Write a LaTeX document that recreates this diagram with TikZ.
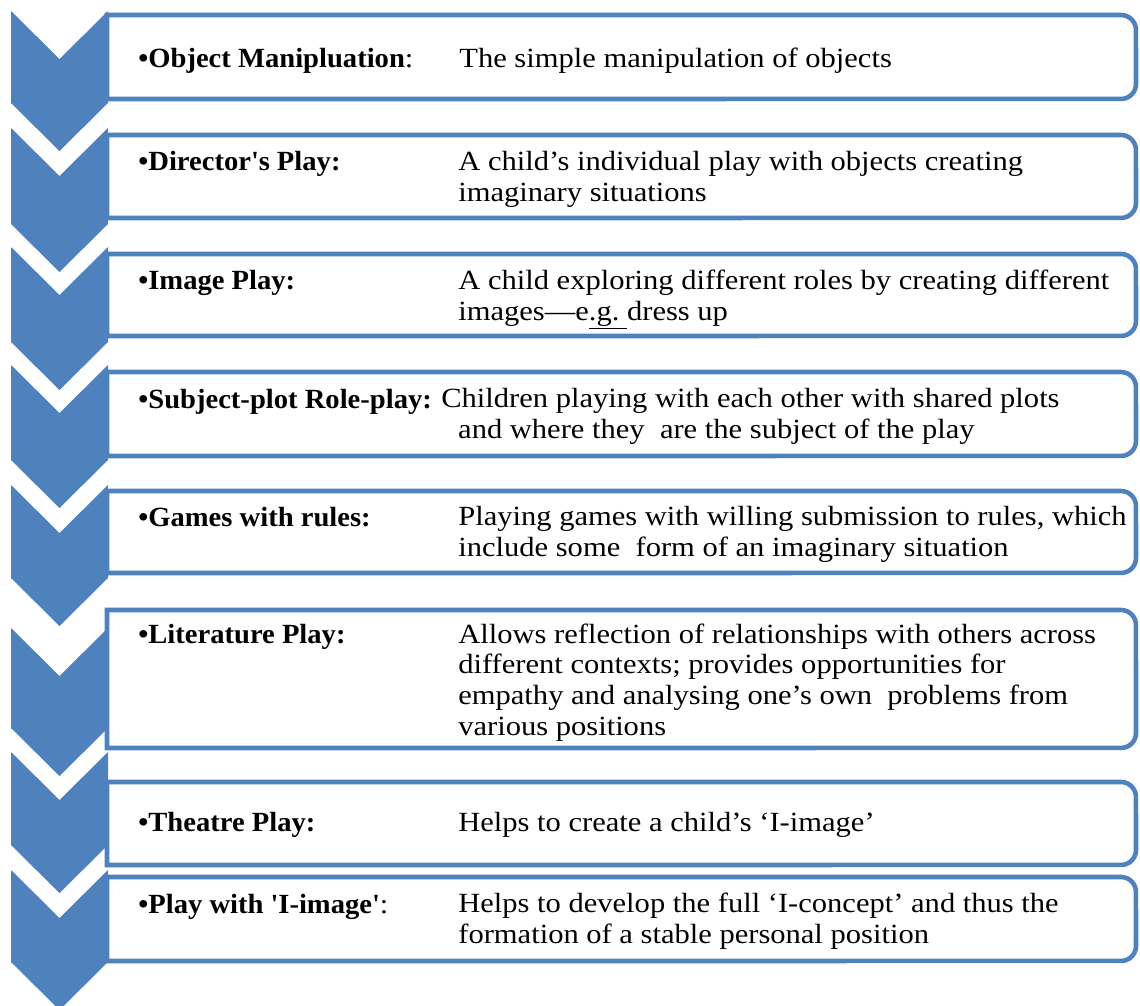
\documentclass[tikz,border=0pt]{standalone}
\usepackage{fontspec}
\setmainfont{Liberation Serif}[FakeStretch=1.1, BoldFeatures={FakeStretch=1.03}]
\definecolor{cB}{RGB}{79,129,189}
\newcommand{\stagefont}{\fontsize{15.8}{17.4}\selectfont}
\tikzset{chevfill/.style={
  fill=cB,
  }
}
\tikzset{stagebox/.style={
  draw=cB,
  fill=white,
  line width=2.6pt,
  line join=miter,
  }
}
\tikzset{stagelab/.style={
  anchor=base west,
  inner sep=0pt,
  font=\stagefont,
  }
}
\tikzset{stagetxt/.style={
  anchor=base west,
  inner sep=0pt,
  align=left,
  font=\stagefont,
  }
}
\newcommand{\chev}[2]{\fill[chevfill] (11,-#1) -- (59.5,-#1-48) -- (108,-#1) -- (108,-#2) -- (59.5,-#2-48) -- (11,-#2) -- cycle;}
\newcommand{\stagerect}[2]{\draw[stagebox] (107,-#1) -- (1121,-#1) arc[start angle=90,end angle=0,radius=8.5pt] -- (1136,-#2+15) arc[start angle=0,end angle=-90,radius=8.5pt] -- (107,-#2) -- cycle;}

\begin{document}
\begin{tikzpicture}[x=0.02cm, y=0.02cm]
  \useasboundingbox (0,0) rectangle (1140,-1005);
  \clip (0,0) rectangle (1140,-1005);

  \chev{11}{103}
  \chev{128}{224}
  \chev{247}{342}
  \chev{365}{460}
  \chev{485}{578}
  \chev{628}{728}
  \chev{752}{845}
  \chev{870}{962}

  \stagerect{15}{99}
  \stagerect{135}{218}
  \stagerect{254}{336}
  \stagerect{372}{456}
  \stagerect{491}{573}
  \stagerect{610}{748}
  \stagerect{782}{865}
  \stagerect{877}{961}

  % multi-line texts sit on the baseline of their last line
  \node [stagelab] (lab1) at (138,-67) {\textbf{•Object Manipluation}:};
  \node [stagetxt] (txt1) at (459,-67) {The simple manipulation of objects};

  \node [stagelab] (lab2) at (138,-170) {\textbf{•Director\textquotesingle s Play:}};
  \node [stagetxt] (txt2) at (458,-201) {A child’s individual play with objects creating\\imaginary situations};

  \node [stagelab] (lab3) at (138,-289) {\textbf{•Image Play:}};
  \node [stagetxt] (txt3) at (458,-320) {A child exploring different roles by creating different\\images—e\underline{.g.\ }dress up};

  \node [stagelab] (lab4) at (138,-408) {\textbf{•Subject-plot Role-play:}};
  \node [stagetxt] (txt4) at (441,-438) {Children playing with each other with shared plots\\\hspace*{9.6pt}and where they\ \ are the subject of the play};

  \node [stagelab] (lab5) at (138,-526) {\textbf{•Games with rules:}};
  \node [stagetxt] (txt5) at (458,-556) {Playing games with willing submission to rules, which\\include some\ \ form of an imaginary situation};

  \node [stagelab] (lab6) at (138,-643) {\textbf{•Literature Play:}};
  \node [stagetxt] (txt6) at (458,-735) {Allows reflection of relationships with others across\\different contexts; provides opportunities for\\empathy and analysing one’s own\ \ problems from\\various positions};

  \node [stagelab] (lab7) at (138,-831) {\textbf{•Theatre Play:}};
  \node [stagetxt] (txt7) at (458,-831) {Helps to create a child’s ‘I-image’};

  \node [stagelab] (lab8) at (138,-913) {\textbf{•Play with \textquotesingle I-image\textquotesingle}:};
  \node [stagetxt] (txt8) at (458,-943) {Helps to develop the full ‘I-concept’ and thus the\\formation of a stable personal position};
\end{tikzpicture}
\end{document}
